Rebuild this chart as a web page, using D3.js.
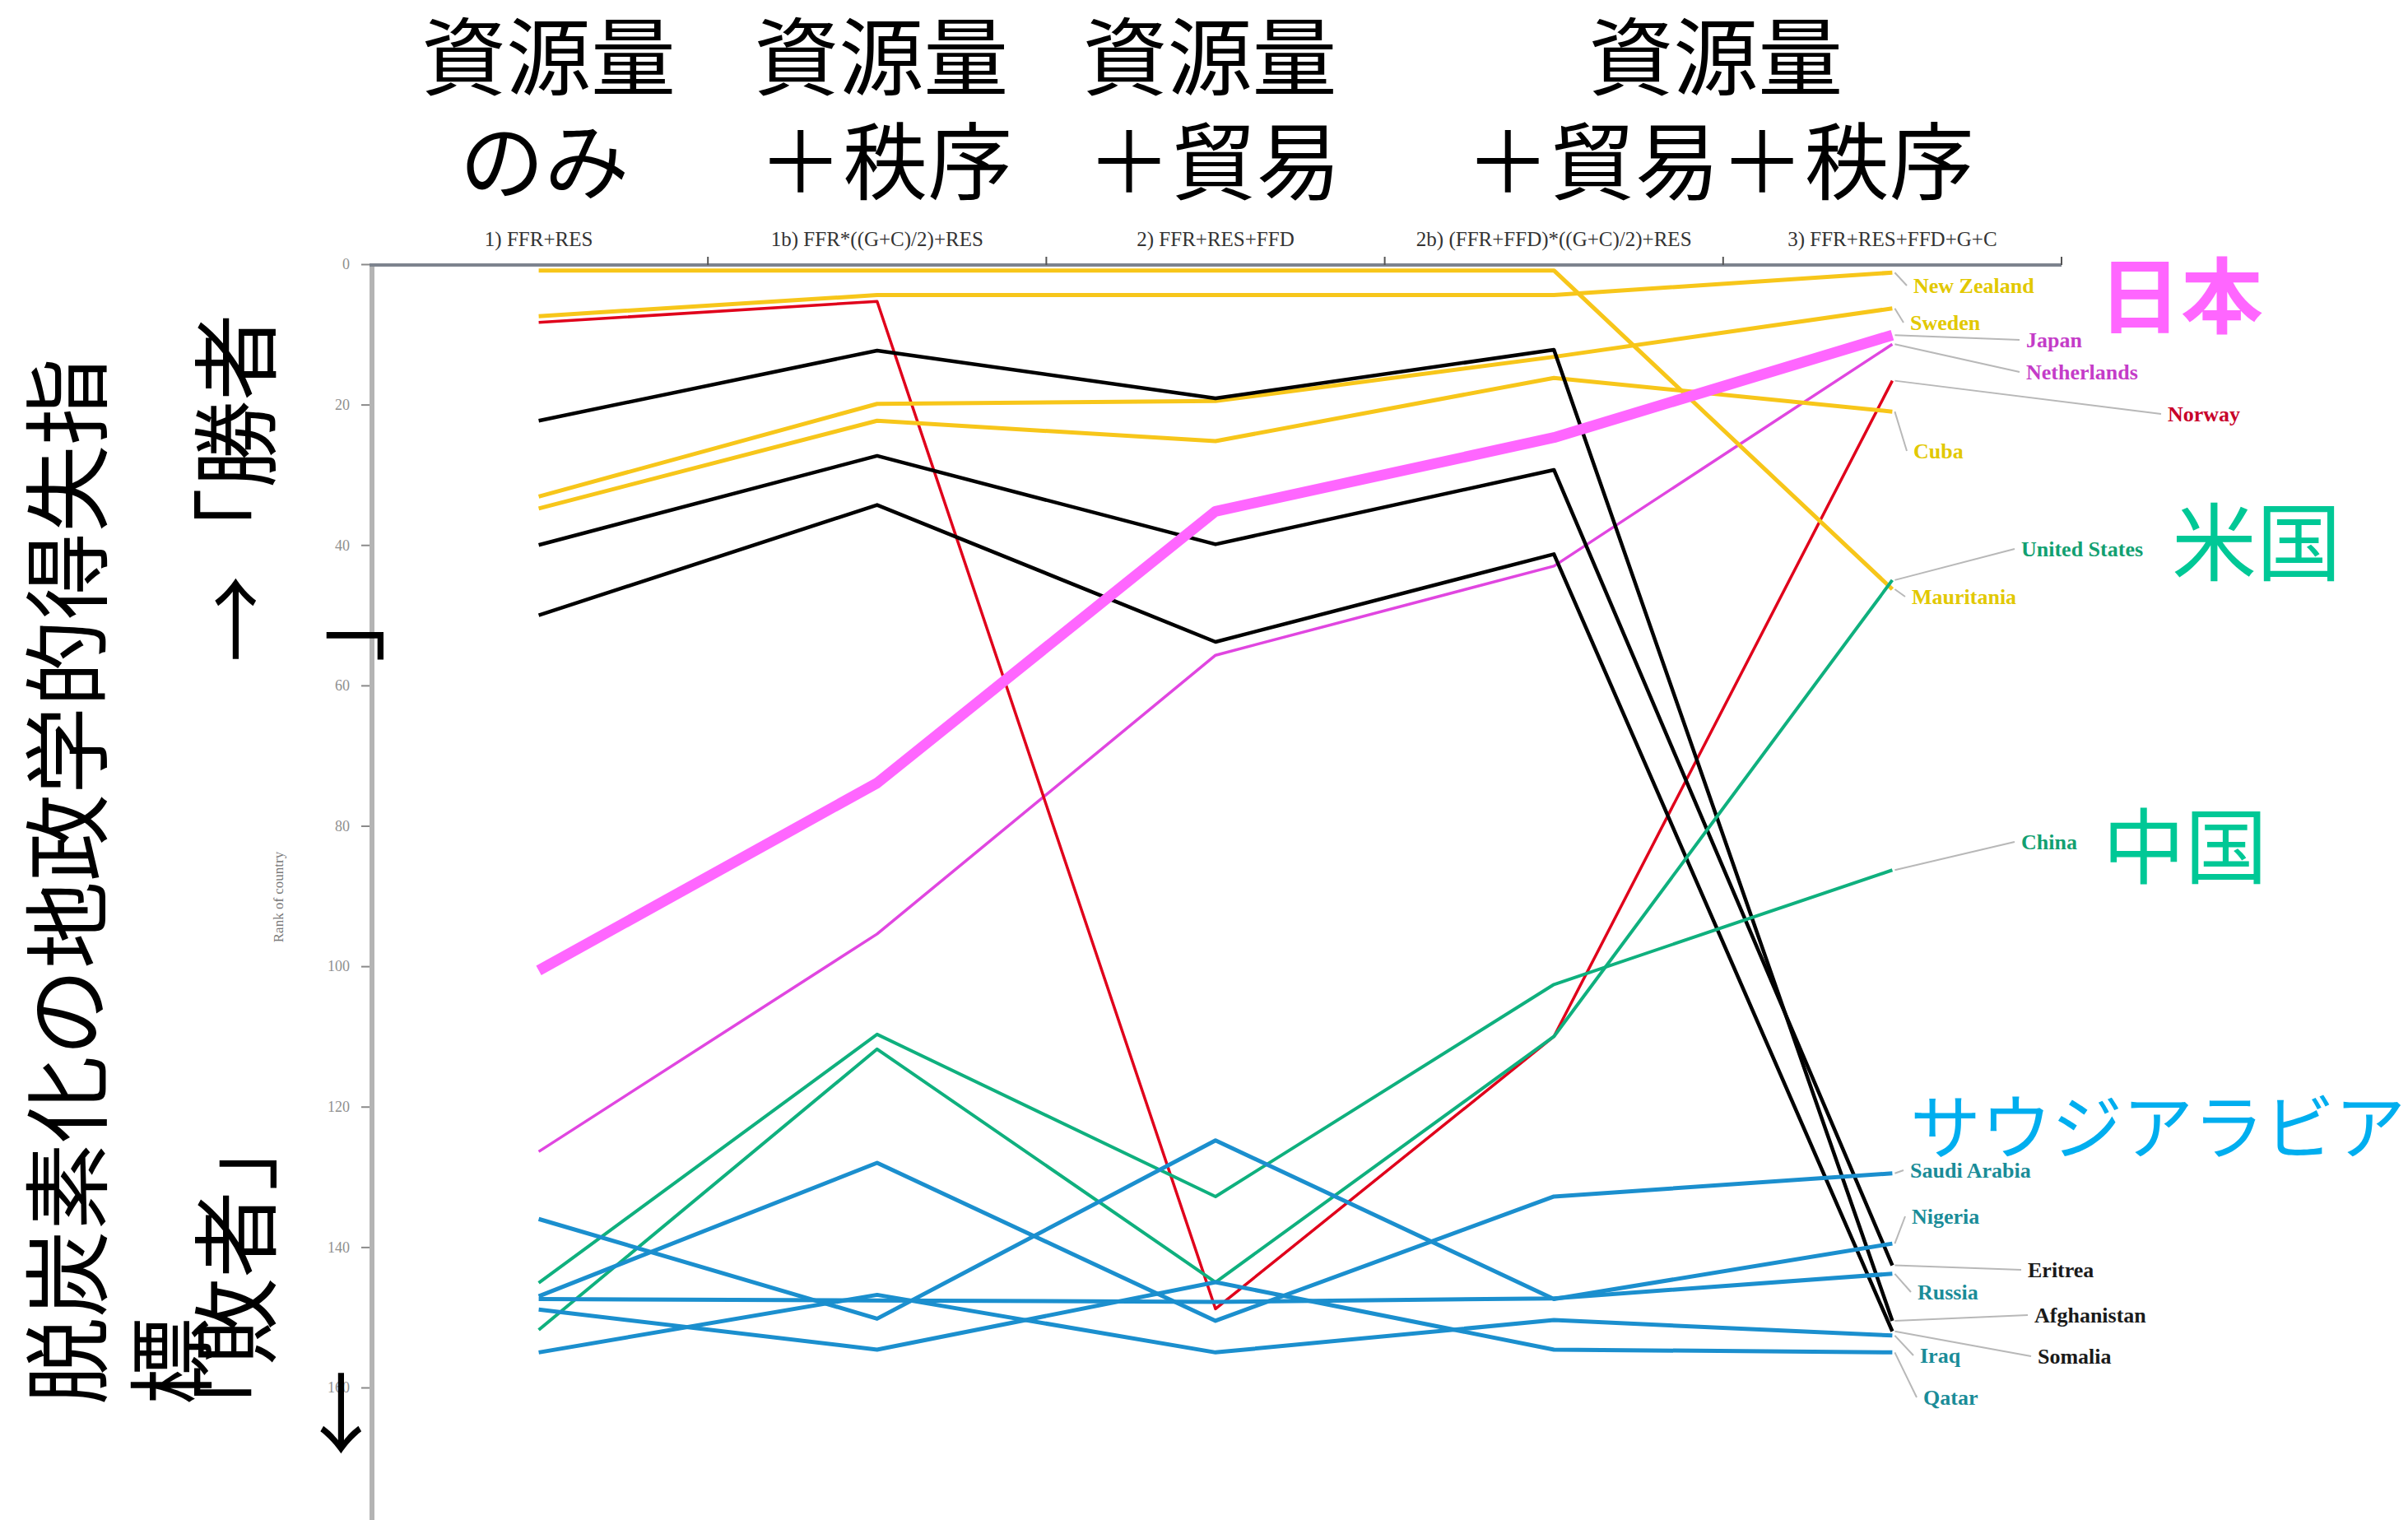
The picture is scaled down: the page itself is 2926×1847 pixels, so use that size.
<!DOCTYPE html>
<html>
<head>
<meta charset="utf-8">
<title>脱炭素化の地政学的得失指標</title>
<style>
  body { margin: 0; background: #fff; }
  svg { display: block; }
  .jp { font-family: "Noto Sans CJK JP", sans-serif; }
  .serif { font-family: "Liberation Serif", "DejaVu Serif", serif; }
</style>
</head>
<body>
<svg id="chart" width="2926" height="1847"></svg>
<script src="https://cdn.jsdelivr.net/npm/d3@7/dist/d3.min.js"></script>
<script>
// scenarios on the x axis
var scenarios = ["1) FFR+RES", "1b) FFR*((G+C)/2)+RES", "2) FFR+RES+FFD", "2b) (FFR+FFD)*((G+C)/2)+RES", "3) FFR+RES+FFD+G+C"];
var rankTicks = [0, 20, 40, 60, 80, 100, 120, 140, 160];

// Japanese headings over the scenarios
var headTop = ["資源量", "資源量", "資源量", "資源量"];
var headBottom = ["のみ", "＋秩序", "＋貿易", "＋貿易＋秩序"];
var headCols = [[0], [1], [2], [3, 4]];

// rank of each country in every scenario
var countries = ["Japan", "Netherlands", "Norway", "New Zealand", "Sweden", "Cuba", "Mauritania",
  "Eritrea", "Afghanistan", "Somalia", "United States", "China",
  "Saudi Arabia", "Nigeria", "Russia", "Iraq", "Qatar"];
var groups = ["japan", "pink", "red", "yellow", "yellow", "yellow", "yellow",
  "black", "black", "black", "green", "green",
  "blue", "blue", "blue", "blue", "blue"];
var japan = [100.6, 73.9, 35.2, 24.7, 10.1];
var netherlands = [126.4, 95.4, 55.7, 43, 11.4];
var norway = [8.3, 5.3, 148.8, 110, 16.6];
var newZealand = [7.4, 4.4, 4.4, 4.4, 1.2];
var sweden = [33.1, 19.9, 19.5, 13.2, 6.3];
var cuba = [34.8, 22.3, 25.2, 16.2, 21];
var mauritania = [0.9, 0.9, 0.9, 0.9, 46.3];
var eritrea = [40, 27.3, 39.9, 29.3, 142.6];
var afghanistan = [22.3, 12.3, 19.1, 12.2, 150.5];
var somalia = [50, 34.3, 53.8, 41.3, 152];
var unitedStates = [151.8, 111.8, 145, 110, 45];
var china = [145.1, 109.7, 132.8, 102.6, 86.3];
var saudiArabia = [147, 128, 150.5, 132.8, 129.5];
var nigeria = [136, 150.2, 124.8, 147.4, 139.5];
var russia = [147.4, 147.6, 147.8, 147.3, 143.8];
var iraq = [155, 146.8, 155, 150.4, 152.6];
var qatar = [148.9, 154.6, 145, 154.6, 155];
var ranks = [japan, netherlands, norway, newZealand, sweden, cuba, mauritania,
  eritrea, afghanistan, somalia, unitedStates, china,
  saudiArabia, nigeria, russia, iraq, qatar];

// big overlay labels
var callouts = ["日本", "米国", "中国", "サウジアラビア"];

// ---- styles / layout ----
var lineStyle = {
  yellow: { stroke: "#f7c61a", width: 5 },
  black: { stroke: "#000000", width: 4.5 },
  red: { stroke: "#e0001b", width: 3.5 },
  pink: { stroke: "#e046e0", width: 3.5 },
  japan: { stroke: "#ff66ff", width: 13 },
  green: { stroke: "#0fb07e", width: 4 },
  blue: { stroke: "#1b8fce", width: 5 }
};
var labelColor = {
  yellow: "#e2c800", black: "#1a1a1a", red: "#c8002a", pink: "#c43cc8",
  japan: "#c43cc8", green: "#12a071", blue: "#1a8c98"
};
// heading shift from the column centre, row 1 and row 2
var headShift1 = [12, 5, -7, -9];
var headShift2 = [7, 10, -2, -4];
// label anchor (left x, middle y) next to the last scenario
var labelPos = {
  "New Zealand": [2325, 347], "Sweden": [2321, 392], "Japan": [2462, 413],
  "Netherlands": [2462, 452], "Norway": [2634, 503], "Cuba": [2325, 548],
  "United States": [2456, 667], "Mauritania": [2323, 725], "China": [2456, 1023],
  "Saudi Arabia": [2321, 1422], "Nigeria": [2323, 1478], "Eritrea": [2464, 1543],
  "Russia": [2330, 1570], "Afghanistan": [2472, 1598], "Iraq": [2333, 1647],
  "Somalia": [2476, 1648], "Qatar": [2337, 1698]
};

var svg = d3.select("#chart");

var x = d3.scaleBand().domain(scenarios).range([449, 2505]);
var xc = function (i) { return x(scenarios[i]) + x.bandwidth() / 2; };
var y = d3.scaleLinear().domain([0, 160]).range([321, 1686]);

// left axis
svg.append("line")
  .attr("x1", 452).attr("x2", 452).attr("y1", 321).attr("y2", 1847)
  .attr("stroke", "#b4b4b4").attr("stroke-width", 6);

var yAxis = svg.append("g")
  .attr("class", "serif")
  .attr("transform", "translate(449,0)")
  .call(d3.axisLeft(y).tickValues(rankTicks).tickSize(10).tickPadding(14));
yAxis.select(".domain").remove();
yAxis.selectAll(".tick line").attr("stroke", "#8a8a8a").attr("stroke-width", 2);
yAxis.selectAll(".tick text").attr("fill", "#8f8f8f").attr("font-size", 18);

svg.append("text")
  .attr("class", "serif")
  .attr("transform", "translate(338,1090) rotate(-90)")
  .attr("text-anchor", "middle")
  .attr("dominant-baseline", "central")
  .attr("font-size", 17)
  .attr("fill", "#777")
  .text("Rank of country");

// top axis
svg.append("line")
  .attr("x1", 449).attr("x2", 2505).attr("y1", 322).attr("y2", 322)
  .attr("stroke", "#7d838e").attr("stroke-width", 4);

svg.selectAll(".xtick")
  .data(scenarios.slice(1).concat(["end"]))
  .enter().append("line")
  .attr("class", "xtick")
  .attr("x1", function (d) { return d === "end" ? 2505 : x(d); })
  .attr("x2", function (d) { return d === "end" ? 2505 : x(d); })
  .attr("y1", 322).attr("y2", 312)
  .attr("stroke", "#555").attr("stroke-width", 2);

svg.selectAll(".xlabel")
  .data(scenarios)
  .enter().append("text")
  .attr("class", "serif xlabel")
  .attr("x", function (d, i) { return xc(i); })
  .attr("y", 299)
  .attr("text-anchor", "middle")
  .attr("font-size", 25)
  .attr("fill", "#333")
  .text(function (d) { return d; });

// headings
var heads = svg.append("g").attr("class", "jp").attr("fill", "#000").attr("font-size", 103);
heads.selectAll(".h1")
  .data(headTop)
  .enter().append("text")
  .attr("x", function (d, i) { return d3.mean(headCols[i], xc) + headShift1[i]; })
  .attr("y", 108)
  .attr("text-anchor", "middle")
  .text(function (d) { return d; });
heads.selectAll(".h2")
  .data(headBottom)
  .enter().append("text")
  .attr("x", function (d, i) { return d3.mean(headCols[i], xc) + headShift2[i]; })
  .attr("y", 235)
  .attr("text-anchor", "middle")
  .text(function (d) { return d; });

// rotated texts on the left
var sideTexts = [
  { t: "脱炭素化の地政学的得失指", x: 75, y: 1707 },
  { t: "標", x: 202, y: 1707 },
  { t: "→「勝者", x: 280, y: 805 },
  { t: "」", x: 410, y: 805 },
  { t: "「敗者」", x: 280, y: 1765 },
  { t: "←", x: 408, y: 1770 }
];
svg.selectAll(".side")
  .data(sideTexts)
  .enter().append("text")
  .attr("class", "jp side")
  .attr("transform", function (d) { return "translate(" + d.x + "," + d.y + ") rotate(-90)"; })
  .attr("dominant-baseline", "central")
  .attr("font-size", 106)
  .attr("fill", "#000")
  .text(function (d) { return d.t; });

// leader lines to the country names
var line = d3.line()
  .x(function (d, i) { return xc(i); })
  .y(function (d) { return y(d); });

svg.selectAll(".leader")
  .data(countries)
  .enter().append("line")
  .attr("class", "leader")
  .attr("x1", xc(4) + 3)
  .attr("y1", function (d, i) { return y(ranks[i][4]); })
  .attr("x2", function (d) { return labelPos[d][0] - 8; })
  .attr("y2", function (d) { return labelPos[d][1]; })
  .attr("stroke", "#b8b8b8")
  .attr("stroke-width", 2);

// country lines, Japan last so it sits on top
var order = d3.range(countries.length).slice(1).concat([0]);
svg.selectAll(".country")
  .data(order)
  .enter().append("path")
  .attr("class", "country")
  .attr("d", function (i) { return line(ranks[i]); })
  .attr("fill", "none")
  .attr("stroke", function (i) { return lineStyle[groups[i]].stroke; })
  .attr("stroke-width", function (i) { return lineStyle[groups[i]].width; })
  .attr("stroke-linejoin", "round");

svg.selectAll(".cname")
  .data(countries)
  .enter().append("text")
  .attr("class", "serif cname")
  .attr("x", function (d) { return labelPos[d][0]; })
  .attr("y", function (d) { return labelPos[d][1]; })
  .attr("dominant-baseline", "central")
  .attr("font-size", 26)
  .attr("font-weight", "bold")
  .attr("fill", function (d, i) { return labelColor[groups[i]]; })
  .text(function (d) { return d; });

// callouts
var calloutStyle = [
  { x: 2550, y: 397, size: 100, weight: "bold", color: "#ff66ff" },
  { x: 2639, y: 698, size: 103, weight: "normal", color: "#00c896" },
  { x: 2555, y: 1066, size: 100, weight: "normal", color: "#00c896" },
  { x: 2321, y: 1402, size: 86, weight: "normal", color: "#00aeef" }
];
svg.selectAll(".callout")
  .data(callouts)
  .enter().append("text")
  .attr("class", "jp callout")
  .attr("x", function (d, i) { return calloutStyle[i].x; })
  .attr("y", function (d, i) { return calloutStyle[i].y; })
  .attr("font-size", function (d, i) { return calloutStyle[i].size; })
  .attr("font-weight", function (d, i) { return calloutStyle[i].weight; })
  .attr("fill", function (d, i) { return calloutStyle[i].color; })
  .text(function (d) { return d; });
</script>
</body>
</html>
